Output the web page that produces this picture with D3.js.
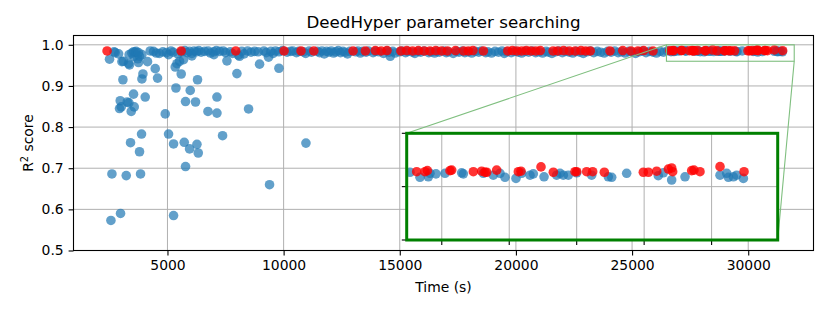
<!DOCTYPE html>
<html><head><meta charset="utf-8">
<script src="https://cdn.jsdelivr.net/npm/d3@7"></script>
<style>body{margin:0;background:#fff} text{font-family:"DejaVu Sans",sans-serif;fill:#000}</style>
</head><body><svg id="c" width="830" height="312"></svg>
<script>
// ---- data ----
const blueTime = [
 2506,2750,2897,3040,3108,3323,3366,3467,3540,3610,3560,3720,3800,3900,3754,4141,4257,4516,4473,4573,
 3082,3943,3900,3539,4042,2966,2936,3010,3268,3340,3440,3569,4904,3884,3410,3797,2609,3225,3841,2980,
 2566,5262,5047,5262,5722,5951,6269,6325,5778,9394,10961,7372,8491,6743,7130,7130,5778,6208,5980,5365,
 6294,5592,5335,5407,5520,5694,8964,9798,7990,7560,8102,6052,5047,9351,14590,2700,3650,3750,4400,4650,
 3350,7000,
 4800,4950,5150,5250,5450,5600,5750,5850,5950,6050,6150,6250,6350,6450,6600,6750,6850,7000,7100,7250,
 7400,7500,7700,7800,8050,8200,8300,8450,8600,8750,8900,9150,9250,9450,9550,9650,9800,9950,10150,10300,
 10400,10550,10650,10850,10950,11100,11200,11450,11550,11650,11750,11850,11950,12050,12150,12250,12350,12450,12550,12650,
 12750,12850,13100,13200,13300,13400,13550,13650,13850,13950,14100,14300,14450,14550,14700,14800,15000,15100,15250,15350,
 15550,15650,15800,15900,16050,16250,16350,16500,16600,16700,16900,17000,17100,17300,17450,17550,17700,17800,17950,18100,
 18250,18400,18500,18700,18800,18950,19100,19250,19400,19500,19600,19800,19950,20100,20250,20400,20550,20700,20850,21000,
 21150,21300,21400,21550,21700,21850,22000,22150,22300,22450,22600,22750,22900,23050,23200,23350,23500,23650,23800,23950,
 24100,24250,24400,24550,24700,24850,25000,25150,25300,25450,25600,25750,25900,26050,26200,26350,
 26529,26677,26801,26825,26914,27048,27295,27320,27616,27764,27863,27937,28100,28184,28308,28357,28516,28703,28753,28802,
 28876,29000,29222,29469,29519,29741,30210,30284,30408,30606,31125,31224,31249,31323,31372,31471
];
const blueScore = [
 0.965,0.981,0.978,0.959,0.960,0.954,0.951,0.980,0.983,0.982,0.971,0.966,0.972,0.976,0.957,0.959,0.985,0.980,0.942,0.919,
 0.915,0.929,0.917,0.880,0.873,0.864,0.845,0.849,0.861,0.859,0.838,0.849,0.832,0.783,0.762,0.740,0.686,0.682,0.686,0.590,
 0.573,0.585,0.783,0.759,0.763,0.747,0.758,0.737,0.704,0.660,0.761,0.779,0.844,0.838,0.834,0.873,0.862,0.861,0.889,0.895,
 0.915,0.929,0.946,0.954,0.960,0.964,0.953,0.943,0.930,0.961,0.972,0.973,0.976,0.970,0.972,0.983,0.984,0.981,0.984,0.979,
 0.976,0.976,
 0.983,0.981,0.985,0.982,0.978,0.983,0.986,0.981,0.984,0.979,0.985,0.983,0.986,0.982,0.984,0.985,0.980,0.983,0.986,0.984,
 0.985,0.981,0.983,0.979,0.975,0.984,0.978,0.985,0.982,0.984,0.983,0.985,0.981,0.984,0.979,0.985,0.983,0.986,0.982,0.984,
 0.985,0.981,0.984,0.983,0.979,0.985,0.982,0.984,0.981,0.985,0.978,0.984,0.982,0.985,0.980,0.983,0.986,0.981,0.984,0.982,
 0.978,0.984,0.983,0.985,0.980,0.984,0.982,0.985,0.981,0.984,0.983,0.979,0.985,0.982,0.984,0.980,0.983,0.985,0.981,0.984,
 0.982,0.979,0.984,0.982,0.985,0.981,0.983,0.980,0.984,0.982,0.985,0.981,0.983,0.979,0.984,0.982,0.985,0.981,0.983,0.980,
 0.984,0.982,0.985,0.981,0.983,0.980,0.984,0.982,0.985,0.979,0.983,0.981,0.984,0.982,0.980,0.984,0.982,0.985,0.981,0.983,
 0.980,0.984,0.982,0.979,0.983,0.985,0.981,0.984,0.982,0.980,0.984,0.982,0.979,0.983,0.985,0.981,0.984,0.982,0.980,0.984,
 0.982,0.985,0.981,0.983,0.980,0.984,0.982,0.979,0.983,0.985,0.981,0.984,0.982,0.980,0.984,0.982,
 0.9854,0.9835,0.9837,0.9850,0.9848,0.9850,0.9852,0.9848,0.9850,0.9843,0.9850,0.9835,0.9831,0.9850,0.9843,0.9848,0.9837,0.9843,0.9850,0.9843,
 0.9843,0.9852,0.9843,0.9837,0.9835,0.9850,0.9841,0.9852,0.9825,0.9837,0.9843,0.9850,0.9835,0.9837,0.9843,0.9831
];
const redTime = [
 2400,5590,7940,10020,10750,11300,12990,13520,13950,14200,14450,15050,15300,15550,15800,16050,16300,16550,16800,17050,
 17400,17750,17950,18150,18600,19650,19850,20050,20250,20450,20650,20850,21050,21600,21800,22050,22300,22550,22800,23000,
 23200,24050,24600,24950,25250,25500,25900,
 26628,26751,26786,27122,27147,27468,27591,27641,27666,27814,28135,28174,28471,28654,28975,29000,29148,29237,29410,29988,
 30063,30186,30359,30408,30423,30705,30739,30828,31125,31481
];
const redScore = [
 0.985,0.985,0.985,0.985,0.985,0.985,0.985,0.985,0.986,0.985,0.986,0.985,0.986,0.985,0.986,0.985,0.985,0.986,0.985,0.985,
 0.986,0.985,0.985,0.986,0.985,0.985,0.986,0.985,0.985,0.986,0.985,0.985,0.986,0.985,0.985,0.986,0.985,0.985,0.986,0.985,
 0.985,0.985,0.986,0.985,0.985,0.986,0.985,
 0.9856,0.9856,0.9860,0.9860,0.9862,0.9856,0.9858,0.9854,0.9854,0.9862,0.9856,0.9858,0.9874,0.9854,0.9856,0.9856,0.9856,0.9856,0.9854,0.9854,
 0.9854,0.9858,0.9866,0.9870,0.9856,0.9860,0.9862,0.9856,0.9875,0.9856
];
const xTicks = [5000,10000,15000,20000,25000,30000];
const yTicks = [0.5,0.6,0.7,0.8,0.9,1.0];
const insetXTicks = [27000,28000,29000,30000,31000];
const insetYTicks = [0.96,0.98,1.0];
const xDomain = [955,32810], yDomain = [0.5,1.0226];
const insetXDomain = [26480,31980], insetYDomain = [0.96,1.0];
const titleText = "DeedHyper parameter searching";

// ---- layout ----
const svg = d3.select("#c");
const M = {l:73.5, r:813.5, t:35.5, b:250.5};
const I = {l:406.7, r:777.7, t:133.3, b:240};
const x = d3.scaleLinear().domain(xDomain).range([M.l,M.r]);
const y = d3.scaleLinear().domain(yDomain).range([M.b,M.t]);
const ix = d3.scaleLinear().domain(insetXDomain).range([I.l,I.r]);
const iy = d3.scaleLinear().domain(insetYDomain).range([I.b,I.t]);
const FS = 13.9, GRID = "#b0b0b0";
const blue = blueTime.map((t,i)=>[t,blueScore[i]]);
const red = redTime.map((t,i)=>[t,redScore[i]]);
const R = 4.8;

const defs = svg.append("defs");
defs.append("clipPath").attr("id","mainclip").append("rect")
  .attr("x",M.l).attr("y",M.t).attr("width",M.r-M.l).attr("height",M.b-M.t);
defs.append("clipPath").attr("id","insclip").append("rect")
  .attr("x",I.l).attr("y",I.t).attr("width",I.r-I.l).attr("height",I.b-I.t);

// grid
const g = svg.append("g");
g.selectAll(".vx").data(xTicks).join("line")
  .attr("x1",d=>x(d)).attr("x2",d=>x(d)).attr("y1",M.t).attr("y2",M.b)
  .attr("stroke",GRID).attr("stroke-width",1);
g.selectAll(".hy").data(yTicks).join("line")
  .attr("x1",M.l).attr("x2",M.r).attr("y1",d=>y(d)).attr("y2",d=>y(d))
  .attr("stroke",GRID).attr("stroke-width",1);

// points
const pts = svg.append("g").attr("clip-path","url(#mainclip)");
pts.selectAll(".b").data(blue).join("circle")
  .attr("cx",d=>x(d[0])).attr("cy",d=>y(d[1])).attr("r",R)
  .attr("fill","#1f77b4").attr("fill-opacity",0.7);
pts.selectAll(".r").data(red).join("circle")
  .attr("cx",d=>x(d[0])).attr("cy",d=>y(d[1])).attr("r",R)
  .attr("fill","#ff0000").attr("fill-opacity",0.8);

// axes
const xa = svg.append("g").attr("transform",`translate(0,${M.b})`)
  .call(d3.axisBottom(x).tickValues(xTicks).tickFormat(d3.format("d")).tickSize(4.9).tickPadding(4.9));
const ya = svg.append("g").attr("transform",`translate(${M.l},0)`)
  .call(d3.axisLeft(y).tickValues(yTicks).tickFormat(d3.format(".1f")).tickSize(4.9).tickPadding(4.9));
[xa,ya].forEach(a=>{
  a.select(".domain").remove();
  a.selectAll(".tick line").attr("stroke","#000").attr("stroke-width",1.1);
  a.selectAll(".tick text").attr("font-size",FS).attr("font-family","DejaVu Sans").attr("fill","#000");
});
// spines
svg.append("rect").attr("x",M.l).attr("y",M.t).attr("width",M.r-M.l).attr("height",M.b-M.t)
  .attr("fill","none").attr("stroke","#000").attr("stroke-width",1.1);

// indicator rectangle + connectors
const LG = "#7fbf7f";
svg.append("rect").attr("x",x(insetXDomain[0])).attr("y",y(insetYDomain[1]))
  .attr("width",x(insetXDomain[1])-x(insetXDomain[0])).attr("height",y(insetYDomain[0])-y(insetYDomain[1]))
  .attr("fill","none").attr("stroke",LG).attr("stroke-width",1.1);
svg.append("line").attr("x1",I.l).attr("y1",I.t).attr("x2",x(insetXDomain[0])).attr("y2",y(insetYDomain[1]))
  .attr("stroke",LG).attr("stroke-width",1.1);
svg.append("line").attr("x1",I.r).attr("y1",I.b).attr("x2",x(insetXDomain[1])).attr("y2",y(insetYDomain[0]))
  .attr("stroke",LG).attr("stroke-width",1.1);

// inset
const ins = svg.append("g");
ins.append("rect").attr("x",I.l).attr("y",I.t).attr("width",I.r-I.l).attr("height",I.b-I.t).attr("fill","#fff");
ins.selectAll(".ivx").data(insetXTicks).join("line")
  .attr("x1",d=>ix(d)).attr("x2",d=>ix(d)).attr("y1",I.t).attr("y2",I.b)
  .attr("stroke",GRID).attr("stroke-width",1);
ins.selectAll(".ihy").data(insetYTicks).join("line")
  .attr("x1",I.l).attr("x2",I.r).attr("y1",d=>iy(d)).attr("y2",d=>iy(d))
  .attr("stroke",GRID).attr("stroke-width",1);
const ipts = ins.append("g").attr("clip-path","url(#insclip)");
ipts.selectAll(".b").data(blue).join("circle")
  .attr("cx",d=>ix(d[0])).attr("cy",d=>iy(d[1])).attr("r",R)
  .attr("fill","#1f77b4").attr("fill-opacity",0.7);
ipts.selectAll(".r").data(red).join("circle")
  .attr("cx",d=>ix(d[0])).attr("cy",d=>iy(d[1])).attr("r",R)
  .attr("fill","#ff0000").attr("fill-opacity",0.8);
ins.selectAll(".ixt").data(insetXTicks).join("line")
  .attr("x1",d=>ix(d)).attr("x2",d=>ix(d)).attr("y1",I.b).attr("y2",I.b+4.9)
  .attr("stroke","#000").attr("stroke-width",1.1);
ins.selectAll(".iyt").data(insetYTicks).join("line")
  .attr("x1",I.l-4.9).attr("x2",I.l).attr("y1",d=>iy(d)).attr("y2",d=>iy(d))
  .attr("stroke","#000").attr("stroke-width",1.1);
ins.append("rect").attr("x",I.l).attr("y",I.t).attr("width",I.r-I.l).attr("height",I.b-I.t)
  .attr("fill","none").attr("stroke","#008000").attr("stroke-width",3);

// labels
svg.append("text").attr("x",(M.l+M.r)/2).attr("y",27.5).attr("text-anchor","middle")
  .attr("font-size",16.7).text(titleText);
svg.append("text").attr("x",(M.l+M.r)/2).attr("y",292).attr("text-anchor","middle")
  .attr("font-size",FS).text("Time (s)");
const yl = svg.append("text").attr("transform",`translate(33,${(M.t+M.b)/2}) rotate(-90)`)
  .attr("text-anchor","middle").attr("font-size",FS);
yl.append("tspan").text("R");
yl.append("tspan").attr("font-size",FS*0.7).attr("dy",-5.5).text("2");
yl.append("tspan").attr("dy",5.5).text(" score");
</script></body></html>
